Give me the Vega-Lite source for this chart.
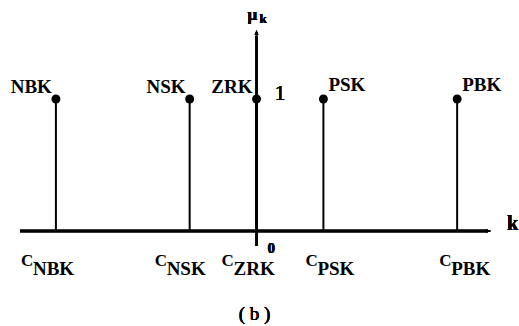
{
  "$schema": "https://vega.github.io/schema/vega-lite/v6.json",
  "width": 519,
  "height": 326,
  "autosize": {"type": "fit", "contains": "padding"},
  "padding": 0,
  "background": "white",
  "config": {
    "view": {"stroke": null},
    "mark": {"font": "Liberation Serif"},
    "text": {"font": "Liberation Serif", "fill": "black"}
  },
  "data": {
    "values": [
      {"label": "NBK", "k": -3, "mu": 1},
      {"label": "NSK", "k": -1, "mu": 1},
      {"label": "ZRK", "k": 0, "mu": 1},
      {"label": "PSK", "k": 1, "mu": 1},
      {"label": "PBK", "k": 3, "mu": 1}
    ]
  },
  "layer": [
    {
      "mark": {"type": "rule", "color": "black", "strokeWidth": 2},
      "encoding": {
        "x": {"field": "k", "type": "quantitative", "axis": null, "scale": {"domain": [-3.836, 3.91], "nice": false, "zero": false}},
        "y": {"field": "mu", "type": "quantitative", "axis": null, "scale": {"domain": [-0.72, 1.75], "nice": false, "zero": false}},
        "y2": {"datum": 0}
      }
    },
    {
      "mark": {"type": "point", "filled": true, "color": "black", "opacity": 1, "size": 80, "shape": "circle"},
      "encoding": {
        "x": {"field": "k", "type": "quantitative", "axis": null},
        "y": {"field": "mu", "type": "quantitative", "axis": null}
      }
    },
    {
      "mark": {"type": "rule", "color": "black", "strokeWidth": 2.5},
      "encoding": {
        "x": {"datum": -3.537, "type": "quantitative", "axis": null},
        "x2": {"datum": 3.45},
        "y": {"datum": 0, "type": "quantitative", "axis": null}
      }
    },
    {
      "mark": {"type": "rule", "color": "black", "strokeWidth": 2},
      "encoding": {
        "x": {"datum": 0, "type": "quantitative", "axis": null},
        "y": {"datum": -0.114, "type": "quantitative", "axis": null},
        "y2": {"datum": 1.48}
      }
    },
    {
      "mark": {"type": "point", "filled": true, "color": "black", "opacity": 1, "size": 64, "shape": "M0,0L-1.25,-0.45L-1.25,0.45Z"},
      "encoding": {
        "x": {"datum": 3.507, "type": "quantitative", "axis": null},
        "y": {"datum": 0, "type": "quantitative", "axis": null}
      }
    },
    {
      "mark": {"type": "point", "filled": true, "color": "black", "opacity": 1, "size": 64, "shape": "M0,0L-0.45,1.25L0.45,1.25Z"},
      "encoding": {
        "x": {"datum": 0, "type": "quantitative", "axis": null},
        "y": {"datum": 1.523, "type": "quantitative", "axis": null}
      }
    },
    {
      "transform": [{"filter": "datum.k <= 0"}],
      "mark": {"type": "text", "font": "Liberation Serif", "align": "right", "baseline": "alphabetic", "dx": -4, "dy": -6, "fontSize": 19, "fontWeight": "bold"},
      "encoding": {
        "x": {"field": "k", "type": "quantitative", "axis": null},
        "y": {"field": "mu", "type": "quantitative", "axis": null},
        "text": {"field": "label", "type": "nominal"}
      }
    },
    {
      "transform": [{"filter": "datum.k > 0"}],
      "mark": {"type": "text", "font": "Liberation Serif", "align": "left", "baseline": "alphabetic", "dx": 5, "dy": -8, "fontSize": 19, "fontWeight": "bold"},
      "encoding": {
        "x": {"field": "k", "type": "quantitative", "axis": null},
        "y": {"field": "mu", "type": "quantitative", "axis": null},
        "text": {"field": "label", "type": "nominal"}
      }
    },
    {
      "transform": [{"filter": "datum.k <= 0"}],
      "mark": {"type": "text", "font": "Liberation Serif", "align": "left", "baseline": "alphabetic", "dx": -35, "dy": 35, "fontSize": 17, "fontWeight": "bold", "text": "C"},
      "encoding": {
        "x": {"field": "k", "type": "quantitative", "axis": null},
        "y": {"datum": 0, "type": "quantitative", "axis": null}
      }
    },
    {
      "transform": [{"filter": "datum.k <= 0"}],
      "mark": {"type": "text", "font": "Liberation Serif", "align": "left", "baseline": "alphabetic", "dx": -23, "dy": 44, "fontSize": 19, "fontWeight": "bold"},
      "encoding": {
        "x": {"field": "k", "type": "quantitative", "axis": null},
        "y": {"datum": 0, "type": "quantitative", "axis": null},
        "text": {"field": "label", "type": "nominal"}
      }
    },
    {
      "transform": [{"filter": "datum.k > 0"}],
      "mark": {"type": "text", "font": "Liberation Serif", "align": "left", "baseline": "alphabetic", "dx": -18, "dy": 35, "fontSize": 17, "fontWeight": "bold", "text": "C"},
      "encoding": {
        "x": {"field": "k", "type": "quantitative", "axis": null},
        "y": {"datum": 0, "type": "quantitative", "axis": null}
      }
    },
    {
      "transform": [{"filter": "datum.k > 0"}],
      "mark": {"type": "text", "font": "Liberation Serif", "align": "left", "baseline": "alphabetic", "dx": -6, "dy": 44, "fontSize": 19, "fontWeight": "bold"},
      "encoding": {
        "x": {"field": "k", "type": "quantitative", "axis": null},
        "y": {"datum": 0, "type": "quantitative", "axis": null},
        "text": {"field": "label", "type": "nominal"}
      }
    },
    {
      "mark": {"type": "text", "font": "Liberation Serif", "align": "left", "baseline": "alphabetic", "dx": 18, "dy": 1, "fontSize": 22, "fontWeight": "normal", "text": "1"},
      "encoding": {
        "x": {"datum": 0, "type": "quantitative", "axis": null},
        "y": {"datum": 1, "type": "quantitative", "axis": null}
      }
    },
    {
      "mark": {"type": "text", "font": "Liberation Serif", "align": "left", "baseline": "alphabetic", "dx": 11, "dy": 22, "fontSize": 15, "fontWeight": "bold", "text": "0"},
      "encoding": {
        "x": {"datum": 0, "type": "quantitative", "axis": null},
        "y": {"datum": 0, "type": "quantitative", "axis": null}
      }
    },
    {
      "mark": {"type": "text", "font": "Liberation Serif", "align": "left", "baseline": "alphabetic", "dx": 16, "dy": -1, "fontSize": 20, "fontWeight": "bold", "text": "k"},
      "encoding": {
        "x": {"datum": 3.507, "type": "quantitative", "axis": null},
        "y": {"datum": 0, "type": "quantitative", "axis": null}
      }
    },
    {
      "mark": {"type": "text", "font": "Liberation Serif", "align": "left", "baseline": "alphabetic", "dx": -9, "dy": -10, "fontSize": 17, "fontWeight": "bold", "text": "μ"},
      "encoding": {
        "x": {"datum": 0, "type": "quantitative", "axis": null},
        "y": {"datum": 1.523, "type": "quantitative", "axis": null}
      }
    },
    {
      "mark": {"type": "text", "font": "Liberation Serif", "align": "left", "baseline": "alphabetic", "dx": 3, "dy": -7, "fontSize": 13, "fontWeight": "bold", "text": "k"},
      "encoding": {
        "x": {"datum": 0, "type": "quantitative", "axis": null},
        "y": {"datum": 1.523, "type": "quantitative", "axis": null}
      }
    },
    {
      "mark": {"type": "text", "font": "Liberation Serif", "align": "center", "baseline": "alphabetic", "dx": -2, "dy": 89, "fontSize": 19, "fontWeight": "normal", "text": "( b )"},
      "encoding": {
        "x": {"datum": 0, "type": "quantitative", "axis": null},
        "y": {"datum": 0, "type": "quantitative", "axis": null}
      }
    }
  ]
}
